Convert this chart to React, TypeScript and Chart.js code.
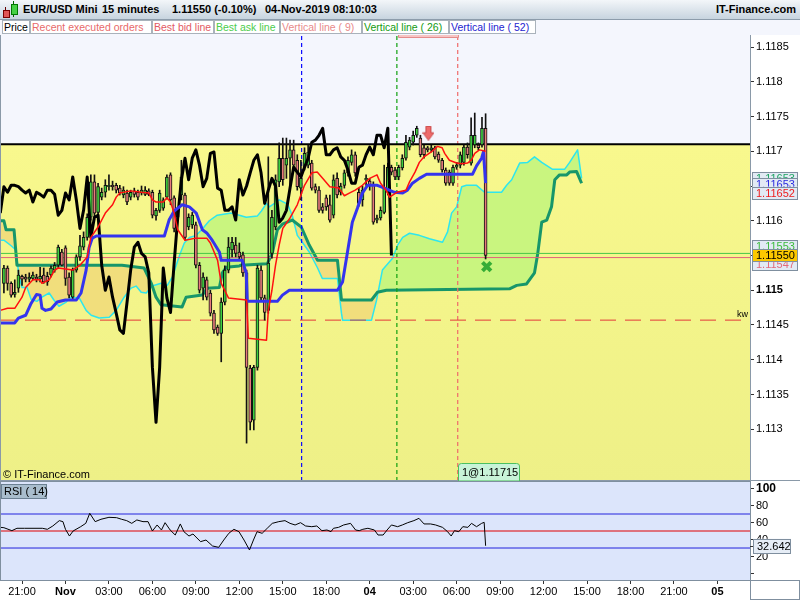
import React, { useEffect, useRef } from 'react';
import { Chart, registerables } from 'chart.js';

Chart.register(...registerables);

const FONT = '"Liberation Sans", Arial, Helvetica, sans-serif';

// ---------- time axis: x = index of the 15-minute bar (bar 0 = 20:45, 31 Oct) ----------
const X_MIN = -1.08;
const X_MAX = 206;
const timeTickIdx = [5, 17, 29, 41, 53, 65, 77, 89, 101, 113, 125, 137, 149, 161, 173, 185, 197];
const timeTickLabels = ['21:00', 'Nov', '03:00', '06:00', '09:00', '12:00', '15:00', '18:00', '04', '03:00', '06:00', '09:00', '12:00', '15:00', '18:00', '21:00', '05'];
const boldTimeLabels = ['Nov', '04', '05'];

// ---------- price axis ----------
const PRICE_MIN = 1.112255;
const PRICE_MAX = 1.118673;
const priceTicks = [1.113, 1.1135, 1.114, 1.1145, 1.115, 1.1155, 1.116, 1.1165, 1.117, 1.1175, 1.118, 1.1185];
const BOLD_PRICE = 1.115;

// ---------- EUR/USD 15 min candles ----------
const opens = [
  1.11510, 1.11532, 1.11510, 1.11494, 1.11503, 1.11520, 1.11519, 1.11516, 1.11517, 1.11519,
  1.11516, 1.11522, 1.11520, 1.11522, 1.11529, 1.11536, 1.11555, 1.11561, 1.11519, 1.11490,
  1.11529, 1.11548, 1.11562, 1.11576, 1.11605, 1.11656, 1.11612, 1.11634, 1.11641, 1.11649,
  1.11651, 1.11651, 1.11647, 1.11637, 1.11640, 1.11634, 1.11643, 1.11641, 1.11640, 1.11638,
  1.11643, 1.11641, 1.11607, 1.11615, 1.11618, 1.11634, 1.11666, 1.11633, 1.11605, 1.11637,
  1.11637, 1.11591, 1.11594, 1.11594, 1.11536, 1.11503, 1.11515, 1.11496, 1.11467, 1.11447,
  1.11438, 1.11483, 1.11529, 1.11558, 1.11565, 1.11555, 1.11551, 1.11525, 1.11388, 1.11313,
  1.11389, 1.11529, 1.11489, 1.11471, 1.11553, 1.11591, 1.11656, 1.11690, 1.11680, 1.11690,
  1.11702, 1.11687, 1.11647, 1.11677, 1.11680, 1.11683, 1.11649, 1.11644, 1.11620, 1.11633,
  1.11623, 1.11608, 1.11661, 1.11641, 1.11651, 1.11669, 1.11684, 1.11695, 1.11641, 1.11630,
  1.11659, 1.11657, 1.11651, 1.11601, 1.11604, 1.11612, 1.11641, 1.11677, 1.11673, 1.11663,
  1.11676, 1.11690, 1.11706, 1.11713, 1.11723, 1.11719, 1.11705, 1.11705, 1.11702, 1.11705,
  1.11696, 1.11687, 1.11673, 1.11670, 1.11654, 1.11677, 1.11680, 1.11684, 1.11706, 1.11683,
  1.11709, 1.11709, 1.11709, 1.11733,
];
const closes = [
  1.11532, 1.11510, 1.11493, 1.11497, 1.11522, 1.11516, 1.11516, 1.11519, 1.11522, 1.11516,
  1.11520, 1.11512, 1.11512, 1.11532, 1.11536, 1.11562, 1.11536, 1.11517, 1.11493, 1.11529,
  1.11548, 1.11564, 1.11576, 1.11605, 1.11656, 1.11611, 1.11649, 1.11641, 1.11651, 1.11651,
  1.11649, 1.11644, 1.11640, 1.11644, 1.11627, 1.11641, 1.11638, 1.11634, 1.11644, 1.11644,
  1.11638, 1.11608, 1.11615, 1.11640, 1.11630, 1.11663, 1.11630, 1.11589, 1.11615, 1.11663,
  1.11576, 1.11605, 1.11608, 1.11536, 1.11500, 1.11519, 1.11490, 1.11467, 1.11443, 1.11438,
  1.11483, 1.11529, 1.11562, 1.11569, 1.11553, 1.11548, 1.11525, 1.11389, 1.11310, 1.11389,
  1.11532, 1.11489, 1.11468, 1.11539, 1.11605, 1.11659, 1.11690, 1.11659, 1.11690, 1.11702,
  1.11680, 1.11649, 1.11661, 1.11697, 1.11699, 1.11647, 1.11644, 1.11615, 1.11615, 1.11620,
  1.11601, 1.11659, 1.11637, 1.11650, 1.11669, 1.11687, 1.11695, 1.11669, 1.11625, 1.11644,
  1.11661, 1.11650, 1.11598, 1.11604, 1.11615, 1.11647, 1.11677, 1.11670, 1.11663, 1.11677,
  1.11690, 1.11713, 1.11716, 1.11723, 1.11733, 1.11695, 1.11695, 1.11702, 1.11705, 1.11692,
  1.11687, 1.11673, 1.11654, 1.11654, 1.11677, 1.11680, 1.11695, 1.11706, 1.11695, 1.11723,
  1.11723, 1.11705, 1.11733, 1.11550,
];
const highs = [
  1.11536, 1.11535, 1.11512, 1.11515, 1.11529, 1.11522, 1.11523, 1.11525, 1.11526, 1.11523,
  1.11533, 1.11532, 1.11526, 1.11535, 1.11540, 1.11565, 1.11559, 1.11564, 1.11525, 1.11532,
  1.11551, 1.11579, 1.11584, 1.11610, 1.11666, 1.11666, 1.11654, 1.11647, 1.11659, 1.11666,
  1.11657, 1.11654, 1.11651, 1.11649, 1.11644, 1.11644, 1.11647, 1.11644, 1.11650, 1.11649,
  1.11646, 1.11644, 1.11618, 1.11644, 1.11633, 1.11666, 1.11669, 1.11636, 1.11620, 1.11687,
  1.11640, 1.11610, 1.11612, 1.11598, 1.11540, 1.11525, 1.11519, 1.11500, 1.11471, 1.11450,
  1.11489, 1.11535, 1.11576, 1.11576, 1.11576, 1.11568, 1.11555, 1.11529, 1.11392, 1.11392,
  1.11536, 1.11535, 1.11493, 1.11692, 1.11615, 1.11666, 1.11712, 1.11719, 1.11719, 1.11716,
  1.11716, 1.11695, 1.11687, 1.11705, 1.11709, 1.11687, 1.11653, 1.11649, 1.11625, 1.11637,
  1.11637, 1.11666, 1.11669, 1.11654, 1.11673, 1.11692, 1.11702, 1.11699, 1.11647, 1.11650,
  1.11666, 1.11661, 1.11656, 1.11608, 1.11620, 1.11680, 1.11683, 1.11680, 1.11677, 1.11680,
  1.11695, 1.11723, 1.11720, 1.11729, 1.11736, 1.11723, 1.11709, 1.11707, 1.11709, 1.11707,
  1.11699, 1.11690, 1.11676, 1.11673, 1.11680, 1.11684, 1.11699, 1.11709, 1.11712, 1.11748,
  1.11755, 1.11712, 1.11749, 1.11754,
];
const lows = [
  1.11496, 1.11500, 1.11490, 1.11490, 1.11497, 1.11507, 1.11512, 1.11512, 1.11515, 1.11512,
  1.11512, 1.11510, 1.11507, 1.11519, 1.11526, 1.11533, 1.11535, 1.11507, 1.11489, 1.11486,
  1.11526, 1.11543, 1.11558, 1.11572, 1.11601, 1.11605, 1.11608, 1.11630, 1.11634, 1.11644,
  1.11644, 1.11640, 1.11637, 1.11633, 1.11623, 1.11630, 1.11634, 1.11630, 1.11637, 1.11636,
  1.11636, 1.11604, 1.11601, 1.11612, 1.11615, 1.11631, 1.11623, 1.11584, 1.11601, 1.11630,
  1.11572, 1.11587, 1.11589, 1.11532, 1.11496, 1.11486, 1.11486, 1.11463, 1.11438, 1.11435,
  1.11397, 1.11479, 1.11525, 1.11548, 1.11548, 1.11543, 1.11520, 1.11280, 1.11299, 1.11299,
  1.11385, 1.11486, 1.11457, 1.11467, 1.11546, 1.11587, 1.11649, 1.11651, 1.11661, 1.11644,
  1.11673, 1.11644, 1.11630, 1.11673, 1.11676, 1.11644, 1.11640, 1.11612, 1.11611, 1.11615,
  1.11598, 1.11604, 1.11633, 1.11637, 1.11647, 1.11664, 1.11680, 1.11664, 1.11621, 1.11621,
  1.11651, 1.11644, 1.11595, 1.11597, 1.11601, 1.11610, 1.11637, 1.11666, 1.11659, 1.11659,
  1.11673, 1.11687, 1.11702, 1.11709, 1.11720, 1.11692, 1.11690, 1.11699, 1.11699, 1.11689,
  1.11684, 1.11670, 1.11651, 1.11651, 1.11651, 1.11674, 1.11676, 1.11680, 1.11690, 1.11680,
  1.11705, 1.11702, 1.11706, 1.11545,
];

// ---------- Ichimoku lines: [bar index, price] ----------
const tenkan: [number, number][] = [
  [-1, 1.11471], [1, 1.11474], [3, 1.11474], [5, 1.11490], [6, 1.11504], [8, 1.11515], [10, 1.11515],
  [10.5, 1.11510], [12.5, 1.11515], [14, 1.11529], [15, 1.11532], [19, 1.11529], [21, 1.11536],
  [23, 1.11548], [24, 1.11576], [26, 1.11591], [28, 1.11611], [30, 1.11623], [31, 1.11634],
  [32, 1.11640], [35, 1.11643], [38, 1.11641], [40, 1.11640], [41, 1.11630], [42, 1.11627],
  [44, 1.11627], [45, 1.11633], [46, 1.11627], [47, 1.11611], [48, 1.11587], [50, 1.11572],
  [53, 1.11575], [56, 1.11575], [57, 1.11568], [59, 1.11543], [60, 1.11510], [62, 1.11489],
  [67, 1.11486], [67.5, 1.11431], [72.5, 1.11428], [73, 1.11471], [74, 1.11500], [75, 1.11536],
  [76, 1.11565], [77, 1.11589], [79, 1.11604], [81, 1.11623], [83, 1.11651], [85, 1.11669],
  [86.5, 1.11670], [88, 1.11661], [90, 1.11649], [92.5, 1.11647], [94, 1.11636], [95.5, 1.11640],
  [97, 1.11644], [99, 1.11651], [101, 1.11661], [103, 1.11666], [104, 1.11654], [105.5, 1.11644],
  [106.5, 1.11634], [108.5, 1.11641], [111, 1.11644], [112, 1.11656], [113.5, 1.11670],
  [114.7, 1.11684], [116, 1.11692], [118, 1.11699], [119.7, 1.11707], [121, 1.11705],
  [121.7, 1.11697], [123, 1.11687], [125, 1.11683], [126.6, 1.11682], [128, 1.11683],
  [129, 1.11687], [130, 1.11697], [131.3, 1.11702], [133, 1.11700],
];
const kijun: [number, number][] = [
  [-1, 1.11453], [3, 1.11453], [4, 1.11460], [6, 1.11464], [7.5, 1.11481], [9, 1.11494], [10, 1.11493],
  [10.5, 1.11474], [11.5, 1.11471], [13, 1.11473], [14.7, 1.11483], [17, 1.11486], [20, 1.11486],
  [21.3, 1.11496], [22.7, 1.11529], [23.5, 1.11561], [24.4, 1.11575], [25.5, 1.11578], [44.3, 1.11578],
  [45.6, 1.11601], [47, 1.11614], [49.2, 1.11623], [51.2, 1.11620], [53.1, 1.11611], [54.8, 1.11587],
  [56.1, 1.11582], [57.5, 1.11572], [59.5, 1.11555], [60, 1.11543], [65.8, 1.11543], [66.9, 1.11525],
  [67.2, 1.11484], [75.5, 1.11484], [76.9, 1.11493], [78.8, 1.11500], [92.1, 1.11500], [93.5, 1.11512],
  [94.8, 1.11553], [96.2, 1.11598], [97.6, 1.11618], [99, 1.11640], [100.4, 1.11651], [103.1, 1.11651],
  [105.6, 1.11646], [107.8, 1.11641], [110.1, 1.11640], [111.4, 1.11644], [112.8, 1.11654],
  [114.7, 1.11661], [116.7, 1.11667], [129.4, 1.11667], [130.5, 1.11679], [131.9, 1.11690],
  [132.4, 1.11699], [133, 1.11654],
];
const senkouA: [number, number][] = [
  [-1, 1.11572], [0, 1.11572], [2, 1.11564], [3.3, 1.11558], [4.2, 1.11519], [5, 1.11504], [6.4, 1.11504],
  [7.5, 1.11487], [9.1, 1.11484], [10.5, 1.11490], [12.5, 1.11496], [13.8, 1.11486], [15.2, 1.11477],
  [17.2, 1.11483], [18.5, 1.11490], [20.8, 1.11489], [22.7, 1.11471], [24.1, 1.11464], [26.3, 1.11460],
  [29.1, 1.11461], [31, 1.11471], [33.2, 1.11490], [35.1, 1.11503], [36.5, 1.11506], [37.9, 1.11497],
  [39.3, 1.11496], [40.9, 1.11506], [43.4, 1.11510], [45.1, 1.11507], [46.5, 1.11519], [48.4, 1.11549],
  [49.8, 1.11568], [51.2, 1.11576], [53.1, 1.11579], [54.8, 1.11588], [56.7, 1.11600], [58.9, 1.11608],
  [62.8, 1.11611], [65, 1.11608], [66.9, 1.11605], [70, 1.11607], [71.1, 1.11614], [72.5, 1.11625],
  [73.3, 1.11620], [74.7, 1.11625], [76, 1.11630], [78.3, 1.11624], [79.6, 1.11608], [81, 1.11579],
  [82.4, 1.11569], [84.3, 1.11555], [86.6, 1.11532], [87.9, 1.11517], [92.1, 1.11517], [93.2, 1.11467],
  [93.5, 1.11457], [101.5, 1.11457], [102.9, 1.11486], [104.5, 1.11529], [107.3, 1.11546],
  [108.7, 1.11565], [110.1, 1.11576], [112, 1.11582], [114.7, 1.11579], [117.5, 1.11574],
  [121.1, 1.11569], [122.5, 1.11584], [123.6, 1.11611], [125, 1.11620], [126.4, 1.11649],
  [127.7, 1.11651], [130.5, 1.11651], [132.7, 1.11641], [137.4, 1.11641], [138.8, 1.11651],
  [140.2, 1.11659], [142.4, 1.11683], [144.6, 1.11684], [146.5, 1.11692], [148.5, 1.11684],
  [151.5, 1.11674], [154.8, 1.11674], [156.2, 1.11684], [158.4, 1.11702], [159.5, 1.11661],
];
const senkouB: [number, number][] = [
  [-1, 1.11600], [0, 1.11600], [0.6, 1.11587], [2.8, 1.11587], [3.6, 1.11536], [32.6, 1.11536],
  [38.7, 1.11532], [40.7, 1.11510], [42, 1.11490], [43.4, 1.11479], [49.2, 1.11476], [50.3, 1.11490],
  [54.8, 1.11493], [56.1, 1.11503], [59.5, 1.11504], [60.3, 1.11525], [61.4, 1.11533], [65, 1.11535],
  [65.5, 1.11536], [72.7, 1.11538], [74.1, 1.11553], [75.5, 1.11587], [76.9, 1.11595], [79.6, 1.11601],
  [82.1, 1.11591], [84.3, 1.11565], [86.3, 1.11546], [86.6, 1.11543], [92.1, 1.11543], [93.2, 1.11486],
  [101.5, 1.11486], [103.1, 1.11497], [105.6, 1.11500], [139.6, 1.11502], [141.6, 1.11507],
  [144.3, 1.11509], [146.5, 1.11525], [147.4, 1.11553], [148.5, 1.11598], [149.9, 1.11601],
  [151.2, 1.11620], [152.1, 1.11659], [153.4, 1.11666], [155.4, 1.11666], [156.2, 1.11670],
  [158.1, 1.11671], [159.5, 1.11654],
];
const CHIKOU_SHIFT = 26;

// ---------- RSI(14): [bar index, value] ----------
const rsi: [number, number][] = [
  [-1, 54.3], [0, 53.9], [2.2, 50.4], [3.6, 53.2], [5.7, 53.2], [10.6, 53.2], [12, 52.0], [13.5, 55.9],
  [15.3, 62.2], [16.3, 61.0], [17, 52.0], [18.1, 44.1], [19.1, 50.0], [21.2, 55.1], [22.6, 59.0],
  [23.7, 70.8], [25.2, 61.0], [26.8, 63.8], [29, 66.1], [31.1, 65.7], [32.5, 63.8], [33.9, 62.2],
  [35.3, 59.0], [36.7, 63.0], [38.4, 61.0], [39.8, 61.0], [41, 50.0], [42.3, 57.1], [43.5, 51.2],
  [44.5, 59.8], [45.9, 51.2], [47.3, 45.3], [48.7, 58.3], [49.7, 49.2], [51.1, 44.1], [52.2, 46.5],
  [54.3, 37.5], [55.8, 39.4], [57.6, 32.4], [59.3, 30.8], [60.7, 39.4], [62.1, 47.3], [63.5, 52.0],
  [64.9, 49.2], [66.3, 39.4], [67.8, 27.7], [68.9, 39.4], [69.9, 49.2], [71.3, 47.3], [72.7, 53.2],
  [74.1, 59.0], [75.9, 61.0], [77.6, 62.2], [79, 59.0], [80.4, 57.1], [81.9, 59.8], [83.3, 55.9],
  [85, 55.1], [86.4, 55.9], [87.8, 50.4], [89.2, 51.2], [90.3, 49.2], [91, 53.2], [92.4, 54.3],
  [93.8, 57.1], [95.7, 59.0], [97.1, 51.2], [98.1, 50.4], [99.1, 52.0], [100.5, 53.2], [102.3, 51.2],
  [103.3, 45.3], [104.7, 45.3], [105.8, 51.2], [107, 57.1], [108.7, 55.1], [110, 57.1], [111.5, 59.8],
  [113.2, 62.2], [114.6, 64.9], [116, 58.3], [117.8, 58.3], [119.2, 57.1], [121.1, 54.3], [122.5, 49.2],
  [123.5, 44.1], [124.4, 50.4], [125.6, 49.2], [126.7, 55.1], [128.1, 54.3], [129.1, 59.0],
  [130.5, 55.1], [131.9, 59.0], [132.6, 60.2], [133, 32.642],
];
const RSI_LAST = 32.642;
const rsiLevels = [70, 50, 30];
const RSI_MIN = -7.6;
const RSI_MAX = 108.8;
const rsiTicks = [0, 20, 40, 60, 80, 100];

// ---------- other levels / markers ----------
const ORDER_PRICE = 1.1171;
const ORDER_LABEL = '1@1.11715';
const BID = 1.11547;
const ASK = 1.11553;
const KW_PRICE = 1.11457;
const verticalLineIdx = [82.2, 108.5, 125.3]; // (52), (26), (9)
const crossMarker = { x: 133.3, y: 1.11534 };
const arrowMarker = { x: 117.2, y: 1.11726 };
const tagValues = [1.11653, 1.11653, 1.11652, 1.11553, 1.11547, 1.1155];

// styles
const UP = '#3fcf3f';
const DOWN = '#e77b7b';
const CYAN = '#2ee6ee';
const GREEN_B = '#17966a';
const CLOUD_UP = '#c9f57f';
const CLOUD_DOWN = '#f1de7c';
const vLineColors = ['#0a0aff', '#10a010', '#f06a6a'];
const tagStyles = [
  { color: '#1fa463', shift: -12, fill: '#e2eaf4' },
  { color: '#2a2ae0', shift: -6, fill: '#e2eaf4' },
  { color: '#ee1c1c', shift: 2, fill: '#e2eaf4' },
  { color: '#3cbc3c', shift: -13, fill: '#e2eaf4' },
  { color: '#e36a7a', shift: 0, fill: '#e2eaf4' },
  { color: '#000000', shift: -6.5, fill: '#fcc800' },
];

function makeArrow() {
  const c = document.createElement('canvas');
  c.width = 12;
  c.height = 15;
  const g = c.getContext('2d')!;
  g.fillStyle = '#ee6b6b';
  g.strokeStyle = '#c94a4a';
  g.lineWidth = 1;
  g.beginPath();
  g.moveTo(3.5, 0.5);
  g.lineTo(8.5, 0.5);
  g.lineTo(8.5, 7);
  g.lineTo(11.5, 7);
  g.lineTo(6, 14.5);
  g.lineTo(0.5, 7);
  g.lineTo(3.5, 7);
  g.closePath();
  g.fill();
  g.stroke();
  return c;
}

function drawTag(ctx: CanvasRenderingContext2D, x: number, top: number, w: number, h: number, text: string, color: string, fill: string) {
  ctx.fillStyle = fill;
  ctx.fillRect(x, top, w, h);
  ctx.strokeStyle = '#7f8f9f';
  ctx.lineWidth = 1;
  ctx.strokeRect(Math.round(x) + 0.5, Math.round(top) + 0.5, w - 1, h - 1);
  ctx.fillStyle = color;
  ctx.font = `11px ${FONT}`;
  ctx.textBaseline = 'middle';
  ctx.textAlign = 'left';
  ctx.fillText(text, x + 4, top + h / 2 + 0.5);
}

const mainDecor = {
  id: 'mainDecor',
  beforeDatasetsDraw(chart: any) {
    const { ctx, chartArea: a, scales } = chart;
    ctx.save();
    ctx.fillStyle = '#f4f6fd';
    ctx.fillRect(a.left, a.top, a.right - a.left, a.bottom - a.top);
    const py = scales.y.getPixelForValue(ORDER_PRICE);
    const g = ctx.createLinearGradient(0, py, 0, a.bottom);
    g.addColorStop(0, '#f8f88d');
    g.addColorStop(1, '#eef087');
    ctx.fillStyle = g;
    ctx.fillRect(a.left, py, a.right - a.left, a.bottom - py);
    ctx.restore();
  },
  afterDraw(chart: any) {
    const { ctx, chartArea: a, scales } = chart;
    const xs = scales.x;
    const ys = scales.y;
    ctx.save();
    // frame
    ctx.strokeStyle = '#8a99a8';
    ctx.lineWidth = 1;
    ctx.beginPath();
    ctx.moveTo(0.5, a.top);
    ctx.lineTo(0.5, a.bottom);
    ctx.moveTo(0, a.bottom - 0.5);
    ctx.lineTo(chart.width, a.bottom - 0.5);
    ctx.moveTo(a.right + 0.5, a.top);
    ctx.lineTo(a.right + 0.5, a.bottom);
    ctx.stroke();
    // pink tab at the top between vertical lines (26) and (9)
    const tx0 = Math.round(xs.getPixelForValue(verticalLineIdx[1])) + 1;
    const tx1 = Math.round(xs.getPixelForValue(verticalLineIdx[2])) + 1;
    ctx.fillStyle = '#f7c4c4';
    ctx.fillRect(tx0, a.top, tx1 - tx0, 2);
    ctx.strokeStyle = '#e48c8c';
    ctx.beginPath();
    ctx.moveTo(tx0 + 0.5, a.top);
    ctx.lineTo(tx0 + 0.5, a.top + 2.5);
    ctx.lineTo(tx1 - 0.5, a.top + 2.5);
    ctx.lineTo(tx1 - 0.5, a.top);
    ctx.stroke();
    // copyright
    ctx.fillStyle = '#000';
    ctx.font = `11px ${FONT}`;
    ctx.textBaseline = 'alphabetic';
    ctx.textAlign = 'left';
    ctx.fillText('\u00A9 IT-Finance.com', 3, a.bottom - 3);
    // kw label
    ctx.font = `9px ${FONT}`;
    ctx.fillText('kw', a.right - 13, ys.getPixelForValue(KW_PRICE) - 3);
    // order label box
    const bx = Math.round(xs.getPixelForValue(verticalLineIdx[2]));
    const bw = 62;
    const bh = 18;
    const by = a.bottom - bh;
    ctx.beginPath();
    ctx.moveTo(bx + 0.5, a.bottom);
    ctx.lineTo(bx + 0.5, by + 3);
    ctx.quadraticCurveTo(bx + 0.5, by + 0.5, bx + 3.5, by + 0.5);
    ctx.lineTo(bx + bw - 3.5, by + 0.5);
    ctx.quadraticCurveTo(bx + bw - 0.5, by + 0.5, bx + bw - 0.5, by + 3);
    ctx.lineTo(bx + bw - 0.5, a.bottom);
    ctx.closePath();
    ctx.fillStyle = '#c8f3d8';
    ctx.fill();
    ctx.strokeStyle = '#4cc060';
    ctx.stroke();
    ctx.fillStyle = '#000';
    ctx.font = `11px ${FONT}`;
    ctx.fillText(ORDER_LABEL, bx + 4, a.bottom - 5);
    // axis tags
    tagValues.forEach((v, i) => {
      const s = tagStyles[i];
      const top = ys.getPixelForValue(v) + s.shift;
      drawTag(ctx, a.right + 2, top, 46, 13, v.toFixed(5), s.color, s.fill);
    });
    ctx.restore();
  },
};

const rsiDecor = {
  id: 'rsiDecor',
  beforeDatasetsDraw(chart: any) {
    const { ctx, chartArea: a } = chart;
    ctx.save();
    ctx.fillStyle = '#dce5fb';
    ctx.fillRect(a.left, a.top, a.right - a.left, a.bottom - a.top);
    ctx.restore();
  },
  afterDraw(chart: any) {
    const { ctx, chartArea: a, scales } = chart;
    ctx.save();
    ctx.strokeStyle = '#7f8f9f';
    ctx.lineWidth = 1;
    ctx.strokeRect(0.5, a.top + 0.5, a.right, a.bottom - a.top);
    ctx.strokeRect(a.right + 0.5, a.bottom + 0.5, chart.width - a.right - 1, chart.height - a.bottom - 1);
    // RSI label box
    ctx.fillStyle = '#a9bdcd';
    ctx.fillRect(1, a.top + 3, 46, 15);
    ctx.strokeStyle = '#6b8092';
    ctx.strokeRect(1.5, a.top + 3.5, 45, 14);
    ctx.fillStyle = '#000';
    ctx.font = `11px ${FONT}`;
    ctx.textBaseline = 'middle';
    ctx.fillText('RSI ( 14)', 4, a.top + 11);
    // last value tag
    const py = scales.y.getPixelForValue(RSI_LAST);
    ctx.strokeStyle = '#333';
    ctx.beginPath();
    ctx.moveTo(a.right, Math.round(py) + 0.5);
    ctx.lineTo(a.right + 4, Math.round(py) + 0.5);
    ctx.stroke();
    drawTag(ctx, a.right + 3, py - 7, 38, 15, RSI_LAST.toFixed(3), '#000', '#e6edf6');
    ctx.restore();
  },
};

export default function App() {
  const mainRef = useRef<HTMLCanvasElement>(null);
  const rsiRef = useRef<HTMLCanvasElement>(null);

  useEffect(() => {
    document.body.style.margin = '0';
    const xy = (pts: [number, number][]) => pts.map(([x, y]) => ({ x, y }));
    const flat = (v: number) => [{ x: X_MIN, y: v }, { x: X_MAX, y: v }];
    const vert = (i: number) => [{ x: i, y: PRICE_MIN }, { x: i, y: PRICE_MAX }];
    const bodies = opens.map((o, i) => ({ x: i, y: [o, closes[i]] }));
    const bodyColors = opens.map((o, i) => (closes[i] >= o ? UP : DOWN));
    const wicks = lows.map((l, i) => ({ x: i, y: [l, highs[i]] }));
    const chikou = closes.slice(CHIKOU_SHIFT - 1).map((c, k) => ({ x: k - 1, y: c }));
    const arrow = makeArrow();

    const line = (data: any, color: string, width: number, order: number, extra: any = {}) => ({
      type: 'line',
      data,
      borderColor: color,
      borderWidth: width,
      pointRadius: 0,
      fill: false,
      tension: 0,
      borderJoinStyle: 'round',
      order,
      ...extra,
    });

    const main = new Chart(mainRef.current!, {
      type: 'line',
      data: {
        datasets: [
          line(xy(senkouA), CYAN, 1.5, 90, { fill: { target: 1, above: CLOUD_UP, below: CLOUD_DOWN } }),
          line(xy(senkouB), GREEN_B, 3, 85),
          ...verticalLineIdx.map((i, k) => line(vert(i), vLineColors[k], 1.2, 80, { borderDash: [4, 3] })),
          line(flat(KW_PRICE), '#e23a3a', 1, 79, { borderDash: [16, 9] }),
          line(flat(BID), '#e0607a', 1, 78),
          line(flat(ASK), '#48c848', 1, 78),
          line(flat(ORDER_PRICE), '#000', 2, 75),
          {
            type: 'bar', data: wicks, backgroundColor: '#111', borderWidth: 0,
            barThickness: 1, grouped: false, order: 60,
          },
          {
            type: 'bar', data: bodies, backgroundColor: bodyColors, borderColor: '#111',
            borderWidth: 1, borderSkipped: false, barThickness: 3, grouped: false, order: 55,
          },
          line(chikou, '#000', 3, 40),
          line(xy(kijun), '#3434ee', 3, 35),
          line(xy(tenkan), '#ff1010', 1.5, 30),
          {
            type: 'line', data: [crossMarker], showLine: false, pointStyle: 'crossRot',
            pointRadius: 6, pointBorderWidth: 4, pointBorderColor: '#36ad36', order: 10,
          },
          {
            type: 'line', data: [arrowMarker], showLine: false, pointStyle: arrow,
            pointRadius: 6, order: 10,
          },
        ] as any,
      },
      options: {
        animation: false,
        responsive: false,
        events: [],
        layout: { padding: 0, autoPadding: false },
        plugins: { legend: { display: false }, tooltip: { enabled: false } },
        scales: {
          x: { type: 'linear', min: X_MIN, max: X_MAX, display: false, offset: false },
          y: {
            type: 'linear',
            position: 'right',
            min: PRICE_MIN,
            max: PRICE_MAX,
            afterBuildTicks: (s: any) => { s.ticks = priceTicks.map((v) => ({ value: v })); },
            afterFit: (s: any) => { s.width = 50; s.paddingTop = 0; s.paddingBottom = 0; },
            grid: { drawOnChartArea: false, drawTicks: true, tickLength: 4, tickColor: '#333', color: '#333' },
            border: { display: true, color: '#7f8f9f' },
            ticks: {
              autoSkip: false,
              padding: 2,
              color: '#000',
              font: (c: any) => ({
                family: FONT,
                size: 11,
                weight: c.tick && Math.abs(c.tick.value - BOLD_PRICE) < 1e-9 ? 'bold' : 'normal',
              }),
              callback: (v: any) => String(Number(Number(v).toFixed(4))),
            },
          },
        },
      } as any,
      plugins: [mainDecor],
    });

    const rsiChart = new Chart(rsiRef.current!, {
      type: 'line',
      data: {
        datasets: [
          line(flat(rsiLevels[0]), '#2222dd', 1, 20),
          line(flat(rsiLevels[1]), '#e00000', 1, 20),
          line(flat(rsiLevels[2]), '#2222dd', 1, 20),
          line(xy(rsi), '#000', 1, 10),
        ] as any,
      },
      options: {
        animation: false,
        responsive: false,
        events: [],
        layout: { padding: 0, autoPadding: false },
        plugins: { legend: { display: false }, tooltip: { enabled: false } },
        scales: {
          x: {
            type: 'linear',
            min: X_MIN,
            max: X_MAX,
            offset: false,
            afterBuildTicks: (s: any) => { s.ticks = timeTickIdx.map((v) => ({ value: v })); },
            afterFit: (s: any) => { s.height = 20; s.paddingLeft = 0; s.paddingRight = 0; },
            grid: { drawOnChartArea: false, drawTicks: true, tickLength: 4, tickColor: '#333' },
            border: { display: true, color: '#7f8f9f' },
            ticks: {
              autoSkip: false,
              maxRotation: 0,
              minRotation: 0,
              padding: 1,
              color: '#000',
              font: (c: any) => ({
                family: FONT,
                size: 11,
                weight: boldTimeLabels.includes(timeTickLabels[c.index]) ? 'bold' : 'normal',
              }),
              callback: (_v: any, i: number) => timeTickLabels[i],
            },
          },
          y: {
            type: 'linear',
            position: 'right',
            min: RSI_MIN,
            max: RSI_MAX,
            afterBuildTicks: (s: any) => { s.ticks = rsiTicks.map((v) => ({ value: v })); },
            afterFit: (s: any) => { s.width = 50; s.paddingTop = 0; s.paddingBottom = 0; },
            grid: { drawOnChartArea: false, drawTicks: true, tickLength: 4, tickColor: '#333' },
            border: { display: true, color: '#7f8f9f' },
            ticks: {
              autoSkip: false,
              padding: 2,
              color: '#000',
              font: (c: any) => ({
                family: FONT,
                size: c.tick && c.tick.value === 100 ? 12 : 11,
                weight: c.tick && c.tick.value === 100 ? 'bold' : 'normal',
              }),
              callback: (v: any) => (v === 0 ? '' : String(v)),
            },
          },
        },
      } as any,
      plugins: [rsiDecor],
    });

    return () => {
      main.destroy();
      rsiChart.destroy();
    };
  }, []);

  const legendItems = [
    { text: 'Price', color: '#000', left: 2, width: 28 },
    { text: 'Recent executed orders', color: '#e86a6a', left: 30, width: 122 },
    { text: 'Best bid line', color: '#e35a64', left: 152, width: 62 },
    { text: 'Best ask line', color: '#4ccc4c', left: 214, width: 66 },
    { text: 'Vertical line ( 9)', color: '#e88a8a', left: 280, width: 82 },
    { text: 'Vertical line ( 26)', color: '#129a12', left: 362, width: 87 },
    { text: 'Vertical line ( 52)', color: '#2424d0', left: 449, width: 87 },
  ];
  const headerParts = [
    { text: 'EUR/USD Mini', left: 23 },
    { text: '15 minutes', left: 102 },
    { text: '1.11550 (-0.10%)', left: 172 },
    { text: '04-Nov-2019 08:10:03', left: 265 },
  ];

  return (
    <div style={{ position: 'fixed', left: 0, top: 0, width: 800, height: 600, background: '#fff', overflow: 'hidden', fontFamily: FONT }}>
      <div style={{ position: 'absolute', left: 0, top: 0, width: 800, height: 20, boxSizing: 'border-box', background: 'linear-gradient(#f3f6f9, #c7d4df)', borderBottom: '1px solid #8c9cab' }}>
        <div style={{ position: 'absolute', left: 5, top: 7, width: 1, height: 11, background: '#600' }} />
        <div style={{ position: 'absolute', left: 3, top: 10, width: 5, height: 6, background: '#e05555', border: '1px solid #700' }} />
        <div style={{ position: 'absolute', left: 13, top: 1, width: 1, height: 16, background: '#060' }} />
        <div style={{ position: 'absolute', left: 11, top: 4, width: 5, height: 9, background: '#44d044', border: '1px solid #070' }} />
        {headerParts.map((p) => (
          <span key={p.left} style={{ position: 'absolute', left: p.left, top: 3, fontSize: 11, lineHeight: '13px', fontWeight: 'bold', color: '#000', whiteSpace: 'nowrap' }}>{p.text}</span>
        ))}
        <span style={{ position: 'absolute', right: 4, top: 3, fontSize: 11, lineHeight: '13px', fontWeight: 'bold', color: '#000' }}>IT-Finance.com</span>
      </div>
      <div style={{ position: 'absolute', left: 0, top: 20, width: 800, height: 15, background: '#f4f6fd' }}>
        {legendItems.map((it) => (
          <div key={it.text} style={{ position: 'absolute', left: it.left, top: 0, width: it.width, height: 14, boxSizing: 'border-box', border: '1px solid #a9b2bb', background: '#fff', color: it.color, fontSize: 10.5, lineHeight: '12px', paddingLeft: 1, whiteSpace: 'nowrap', overflow: 'hidden' }}>{it.text}</div>
        ))}
      </div>
      <canvas ref={mainRef} width={800} height={446} style={{ position: 'absolute', left: 0, top: 35, width: 800, height: 446 }} />
      <canvas ref={rsiRef} width={800} height={119} style={{ position: 'absolute', left: 0, top: 481, width: 800, height: 119 }} />
    </div>
  );
}
